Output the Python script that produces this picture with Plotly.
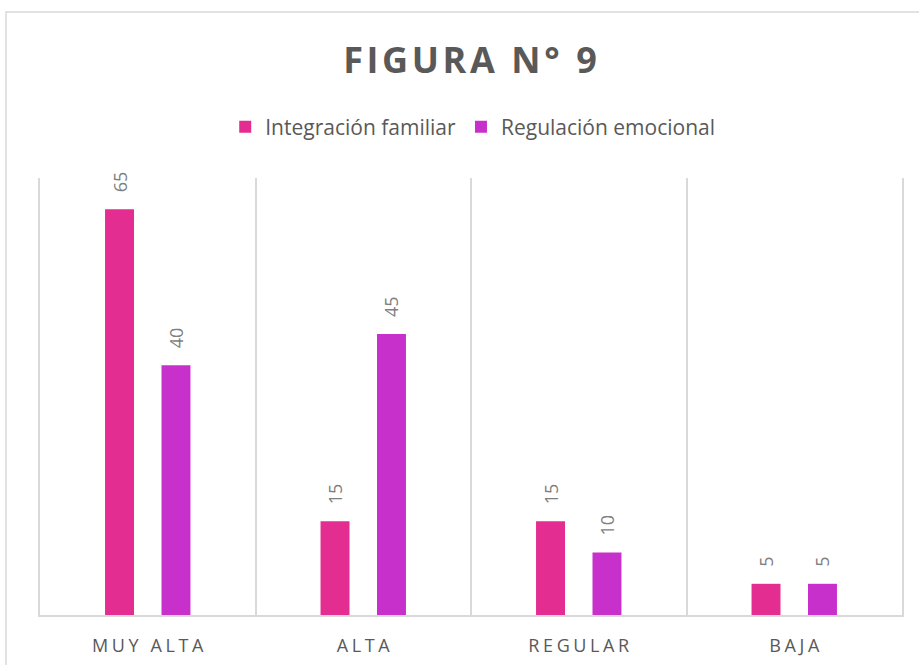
import plotly.graph_objects as go

categories = ["MUY ALTA", "ALTA", "REGULAR", "BAJA"]
integracion = [65, 15, 15, 5]
regulacion = [40, 45, 10, 5]
series_names = ["Integración familiar", "Regulación emocional"]
title_text = "FIGURA N° 9"

SP = "\u200a"  # hair space for letter spacing
NB = "\u00a0"


def spaced(s, sep=SP):
    return sep.join(list(s))


cat_labels = [spaced(c, SP + SP) for c in categories]

W, H = 919, 665
ML, MR, MT, MB = 40, 17, 178, 50
PW, PH = W - ML - MR, H - MT - MB

label_font = dict(family="Open Sans", size=18, color="#7F7F7F")

fig = go.Figure()
for name, vals, col in [(series_names[0], integracion, "#E32D91"),
                        (series_names[1], regulacion, "#C830CC")]:
    fig.add_trace(go.Bar(
        x=cat_labels, y=vals, name=name,
        marker=dict(color=col, line=dict(width=0)),
        text=[NB * 3 + str(v) for v in vals], textposition="outside", textangle=-90,
        textfont=label_font, constraintext="none",
        cliponaxis=False,
    ))

fig.update_layout(
    width=W, height=H,
    paper_bgcolor="white", plot_bgcolor="white",
    margin=dict(l=ML, r=MR, t=MT, b=MB),
    barmode="group", bargap=0.476, bargroupgap=0.487,
    title=dict(text="<b>" + spaced(title_text) + "</b>", x=470 / W, xanchor="center",
               y=1 - 60 / H, yanchor="middle",
               font=dict(family="Open Sans", size=36, color="#595959")),
    legend=dict(orientation="h", x=0.502, xanchor="center", y=1 + (MT - 127) / PH,
                yanchor="middle", font=dict(family="Open Sans", size=21, color="#595959"),
                itemwidth=30, traceorder="normal"),
    showlegend=True,
    xaxis=dict(tickson="boundaries", showgrid=True, gridcolor="#D9D9D9", gridwidth=1.5,
               ticks="", showline=True, linecolor="#D9D9D9", linewidth=1.5,
               ticklabelstandoff=14, automargin=False,
               tickfont=dict(family="Open Sans", size=18, color="#595959")),
    yaxis=dict(range=[0, 70], showgrid=False, showticklabels=False, zeroline=False,
               showline=True, mirror=True, linecolor="#D9D9D9", linewidth=1.5,
               automargin=False),
    shapes=[dict(type="rect", xref="paper", yref="paper",
                 x0=(6 - ML) / PW, x1=1.1, y0=-0.3, y1=1 + (MT - 12) / PH,
                 line=dict(color="#D9D9D9", width=1.5), fillcolor="rgba(0,0,0,0)",
                 layer="below")],
)

fig.write_html("out.html", config={"displayModeBar": False},
               post_script="document.body.style.margin='0';")
